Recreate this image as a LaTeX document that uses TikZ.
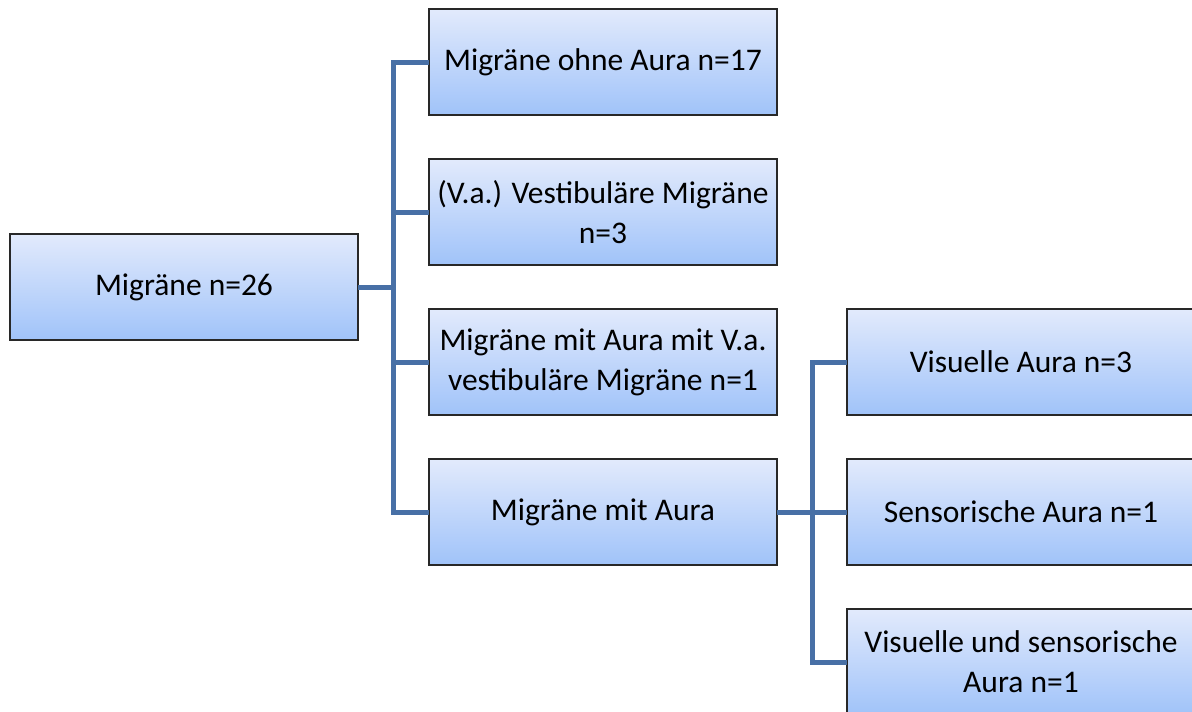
\documentclass[tikz,border=0pt]{standalone}
\usepackage{fontspec}
\setmainfont{Carlito}
\definecolor{boxtop}{RGB}{226,234,252}
\definecolor{boxbot}{RGB}{160,195,249}
\definecolor{conncol}{RGB}{72,112,166}
\definecolor{boxline}{RGB}{40,40,40}
\tikzset{
  box/.style={draw=boxline, line width=1.5pt, top color=boxtop, bottom color=boxbot,
    minimum width=348pt, minimum height=106pt, anchor=north west, inner sep=0pt,
    outer sep=0pt, align=center, font=\fontsize{31.5}{40}\selectfont},
  conn/.style={draw=conncol, line width=5pt, line join=miter}
}
\begin{document}
\begin{tikzpicture}[x=1pt,y=-1pt]
\useasboundingbox (0,0) rectangle (1192,712);
\node[box] (root) at (10,234) {Migräne n=26};
\node[box] (a) at (429,9) {Migräne ohne Aura n=17};
\node[box] (b) at (429,159) {(V.a.) Vestibuläre Migräne\\n=3};
\node[box] (c) at (429,309) {Migräne mit Aura mit V.a.\\vestibuläre Migräne n=1};
\node[box] (d) at (429,459) {Migräne mit Aura};
\node[box] (e) at (847,309) {Visuelle Aura n=3};
\node[box] (f) at (847,459) {Sensorische Aura n=1};
\node[box] (g) at (847,609) {Visuelle und sensorische\\Aura n=1};
\coordinate (t1) at (393,287);
\coordinate (t2) at (812,512);
\draw[conn] (root.east) -- (root.east -| t1);
\draw[conn] (a.west) -- (a.west -| t1) -- (d.west -| t1) -- (d.west);
\draw[conn] (b.west) -- (b.west -| t1);
\draw[conn] (c.west) -- (c.west -| t1);
\draw[conn] (d.east) -- (d.east -| t2);
\draw[conn] (e.west) -- (e.west -| t2) -- (g.west -| t2) -- (g.west);
\draw[conn] (f.west) -- (f.west -| t2);
\end{tikzpicture}
\end{document}
